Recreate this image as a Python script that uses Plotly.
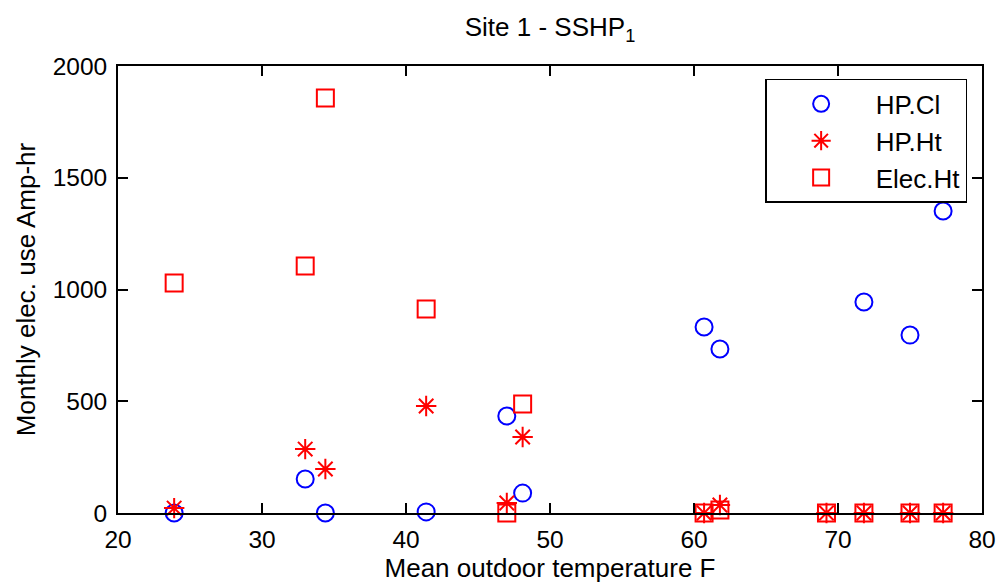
import plotly.graph_objects as go

temps = [23.9, 33.0, 34.4, 41.4, 47.0, 48.1, 60.7, 61.8, 69.2, 71.8, 75.0, 77.3]
hp_cl = [0, 152, 0, 5, 434, 89, 832, 734, None, 944, 796, 1351]
hp_ht = [22, 286, 197, 479, 45, 340, 0, 36, 0, 0, 0, 0]
elec_ht = [1029, 1105, 1857, 913, 0, 488, 0, 13, 0, 0, 0, 0]

x_ticks = [20, 30, 40, 50, 60, 70, 80]
y_ticks = [0, 500, 1000, 1500, 2000]

FONT = "Liberation Sans, Arial, sans-serif"
MS = 17

fig = go.Figure()
fig.add_trace(go.Scatter(
    x=temps, y=hp_cl, mode="markers", name="HP.Cl",
    marker=dict(symbol="circle-open", size=MS, color="#0000ff", line=dict(width=2, color="#0000ff")),
    cliponaxis=False))
fig.add_trace(go.Scatter(
    x=temps, y=hp_ht, mode="markers", name="HP.Ht",
    marker=dict(symbol="asterisk-open", size=MS, color="#ff0000", line=dict(width=2, color="#ff0000")),
    cliponaxis=False))
fig.add_trace(go.Scatter(
    x=temps, y=elec_ht, mode="markers", name="Elec.Ht",
    marker=dict(symbol="square-open", size=MS, color="#ff0000", line=dict(width=2, color="#ff0000")),
    cliponaxis=False))

axis_common = dict(
    showline=True, linecolor="black", linewidth=1.8, mirror="ticks",
    ticks="inside", ticklen=10, tickwidth=1.8, tickcolor="black",
    showgrid=False, zeroline=False, ticklabelstandoff=4, automargin=False,
    tickfont=dict(family=FONT, size=24.5, color="black"),
)

fig.update_layout(
    width=1000, height=585,
    paper_bgcolor="white", plot_bgcolor="white",
    margin=dict(l=118, r=18, t=66, b=72),
    title=dict(text="Site 1 - SSHP<sub>1</sub>", x=0.5, xref="paper", xanchor="center",
               y=1 - 27 / 585, yref="container", yanchor="middle",
               font=dict(family=FONT, size=26, color="black")),
    xaxis=dict(range=[20, 80], tickvals=x_ticks, ticktext=[str(v) for v in x_ticks],
               title=dict(text="Mean outdoor temperature F", standoff=6,
                          font=dict(family=FONT, size=26, color="black")),
               **axis_common),
    yaxis=dict(range=[0, 2000], tickvals=y_ticks, ticktext=[str(v) for v in y_ticks],
               title=dict(text="Monthly elec. use Amp-hr", standoff=10,
                          font=dict(family=FONT, size=26, color="black")),
               **axis_common),
    legend=dict(x=0.749, y=0.971, xanchor="left", yanchor="top",
                bgcolor="white", bordercolor="black", borderwidth=1.5,
                font=dict(family=FONT, size=26, color="black"),
                tracegroupgap=4, itemwidth=99),
    showlegend=True,
)

fig.write_html(
    "out.html",
    config={"displayModeBar": False},
    post_script="document.body.style.margin='0';document.body.style.overflow='hidden';",
)
